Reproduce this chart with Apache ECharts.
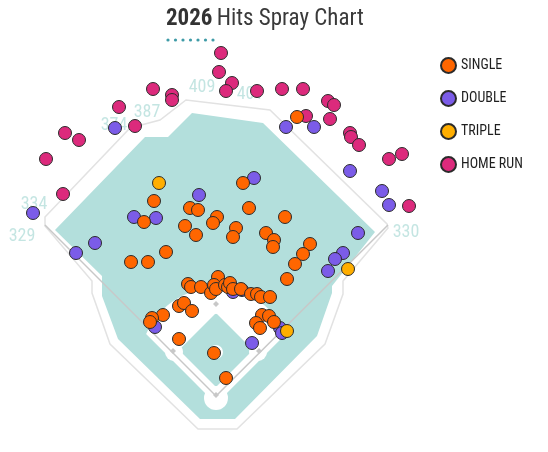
<!DOCTYPE html>
<html>
<head>
<meta charset="utf-8">
<title>2026 Hits Spray Chart</title>
<script src="https://cdn.jsdelivr.net/npm/echarts@6.0.0/dist/echarts.min.js"></script>
<style>
  html, body { margin: 0; padding: 0; background: #fff; }
  #chart { width: 548px; height: 452px; }
</style>
</head>
<body>
<div id="chart"></div>
<script>
// Hit locations in chart coordinates (hc_x / hc_y style, y grows downward)
const singleX = [297, 243, 154, 190, 198, 249, 285, 144, 217, 213, 185, 196, 236, 233, 266, 274, 273, 166, 131, 148,
                 310, 303, 295, 287, 188, 191, 201, 211, 218, 214, 216, 225, 228, 230, 233, 241, 251, 257, 261, 270,
                 179, 184, 192, 163, 152, 150, 179, 262, 269, 274, 256, 260, 214, 226];
const singleY = [117, 183, 201, 208, 210, 208, 217, 222, 217, 223, 226, 235, 228, 237, 233, 240, 247, 252, 262, 262,
                 244, 254, 264, 279, 284, 287, 287, 293, 277, 285, 289, 285, 287, 283, 289, 289, 294, 294, 297, 297,
                 306, 303, 311, 315, 318, 322, 339, 315, 316, 322, 323, 328, 353, 378];

const doubleX = [115, 33, 286, 314, 350, 382, 389, 254, 199, 134, 156, 95, 76, 358, 343, 335, 328, 280, 282, 252, 155, 233, 242];
const doubleY = [128, 213, 127, 127, 171, 191, 205, 178, 195, 217, 218, 243, 253, 233, 253, 259, 271, 328, 333, 343, 327, 292, 290];

const tripleX = [159, 348, 287];
const tripleY = [183, 269, 331];

const homeRunX = [221, 219, 232, 226, 257, 153, 172, 172, 119, 135, 65, 79, 46, 63, 282, 303, 328, 334, 306, 330,
                  350, 351, 359, 389, 402, 409];
const homeRunY = [53, 72, 83, 91, 91, 89, 95, 100, 107, 126, 133, 140, 159, 194, 89, 89, 101, 105, 116, 119,
                  133, 137, 145, 159, 154, 206];

// Fence distances (ft) and where they sit along the wall
const wallDistances = ['409', '401', '387', '374', '334', '329', '330'];
const wallLabelX = [202, 250, 147, 114, 34, 22, 406];
const wallLabelY = [87, 94, 112, 125, 204, 236, 232];

// Field outlines in the same coordinates
const wallOutline = [[45, 217], [130, 128], [160, 120], [186, 100], [270, 110], [387, 224], [388, 228], [343, 281],
                     [343, 294], [325, 344], [237, 429], [198, 429], [110, 344], [92, 293], [92, 281], [45, 226]];
const grassOutline = [[55, 230], [145, 137], [168, 137], [192, 113], [263, 123], [375, 232], [332, 286], [332, 293],
                      [317, 336], [235, 419], [200, 419], [118, 339], [102, 296], [102, 276]];
const homePlate = [216, 396];
const bases = [[259, 351], [216, 304], [173, 351], [216, 395]];
const foulPoles = [[45, 225], [388, 225]];

const FONT = '"Roboto Condensed", "Liberation Sans Narrow", Roboto, sans-serif';
const GRASS = '#b3dfdc';

function renderField(params, api) {
    const pt = p => api.coord(p);
    const px = r => api.size([r, 0])[0];
    const circle = (c, r, fill) => {
        const [cx, cy] = pt(c);
        return { type: 'circle', shape: { cx, cy, r: px(r) }, style: { fill } };
    };

    // infield dirt: arc around the mound, closed at home plate
    const arcC = [216, 364], arcR = 76;
    const a0 = Math.atan2(-30, -70), a1 = Math.atan2(-30, 70);
    const dirt = [[216, 404]];
    for (let i = 0; i <= 40; i++) {
        const a = a0 + (a1 - a0 + 2 * Math.PI) % (2 * Math.PI) * i / 40;
        dirt.push([arcC[0] + arcR * Math.cos(a), arcC[1] + arcR * Math.sin(a)]);
    }
    const diamond = [[216, 313], [253, 350], [216, 387], [179, 350]];

    const children = [
        { type: 'polygon', shape: { points: wallOutline.map(pt) },
          style: { fill: '#fff', stroke: '#e2e2e2', lineWidth: 1.5 } },
        { type: 'polygon', shape: { points: grassOutline.map(pt) }, style: { fill: GRASS } },
        { type: 'polygon', shape: { points: dirt.map(pt) }, style: { fill: '#fff' } },
        { type: 'polygon', shape: { points: diamond.map(pt) }, style: { fill: GRASS } },
        circle([216, 305], 9, '#fff'),
        circle([258, 352], 9, '#fff'),
        circle([174, 352], 9, '#fff'),
        circle([216, 352], 7, '#fff'),
        circle([216, 398], 12, '#fff')
    ];
    foulPoles.forEach(p => {
        const [x1, y1] = pt(homePlate), [x2, y2] = pt(p);
        children.push({ type: 'line', shape: { x1, y1, x2, y2 },
                        style: { stroke: '#c8c8c8', lineWidth: 1.5 } });
    });
    bases.forEach(b => {
        const [x, y] = pt(b);
        children.push({ type: 'polygon', shape: { points: [[x, y - 3], [x + 3, y], [x, y + 3], [x - 3, y]] },
                        style: { fill: '#c8c8c8' } });
    });
    return { type: 'group', children };
}

const toPoints = (xs, ys) => xs.map((x, i) => [x, ys[i]]);

function hitSeries(name, color, xs, ys, z) {
    return {
        name,
        type: 'scatter',
        z,
        symbolSize: 13,
        itemStyle: { color, borderColor: '#2b2b2b', borderWidth: 1, opacity: 1 },
        emphasis: { scale: false },
        data: toPoints(xs, ys)
    };
}

const chart = echarts.init(document.getElementById('chart'));

const option = {
    animation: false,
    textStyle: { fontFamily: FONT },
    title: {
        text: '{y|2026} {t|Hits Spray Chart}',
        left: 166,
        top: 8,
        padding: 0,
        textStyle: {
            rich: {
                y: { fontSize: 23, fontWeight: 'bold', color: '#333', fontFamily: FONT },
                t: { fontSize: 23, fontWeight: 'normal', color: '#3a3a3a', fontFamily: FONT }
            }
        }
    },
    graphic: Array.from({ length: 7 }, (_, i) => ({
        type: 'circle',
        shape: { cx: 168 + i * 7.5, cy: 40, r: 1.6 },
        style: { fill: '#3f9ba7' }
    })),
    legend: {
        data: ['SINGLE', 'DOUBLE', 'TRIPLE', 'HOME RUN'],
        orient: 'vertical',
        left: 440,
        top: 57,
        padding: 0,
        icon: 'circle',
        itemWidth: 15,
        itemHeight: 15,
        itemGap: 16,
        textStyle: { fontSize: 14, lineHeight: 16, color: '#1e1e1e', fontFamily: FONT }
    },
    grid: { left: 0, right: 0, top: 0, bottom: 0 },
    xAxis: { type: 'value', min: 0, max: 548, show: false },
    yAxis: { type: 'value', min: 0, max: 452, inverse: true, show: false },
    series: [
        {
            name: 'field',
            type: 'custom',
            silent: true,
            z: 1,
            renderItem: renderField,
            data: [[0, 0]]
        },
        {
            name: 'distances',
            type: 'scatter',
            silent: true,
            z: 2,
            symbolSize: 0,
            label: {
                show: true,
                position: 'inside',
                formatter: '{b}',
                fontSize: 18,
                color: '#b5dedb',
                fontFamily: FONT
            },
            data: wallDistances.map((d, i) => ({ name: d, value: [wallLabelX[i], wallLabelY[i]] }))
        },
        hitSeries('HOME RUN', '#dc2a7c', homeRunX, homeRunY, 3),
        hitSeries('DOUBLE', '#7b5ce8', doubleX, doubleY, 4),
        hitSeries('TRIPLE', '#ffae00', tripleX, tripleY, 5),
        hitSeries('SINGLE', '#ff6600', singleX, singleY, 6)
    ]
};

chart.setOption(option);
window.addEventListener('resize', () => chart.resize());
</script>
</body>
</html>
